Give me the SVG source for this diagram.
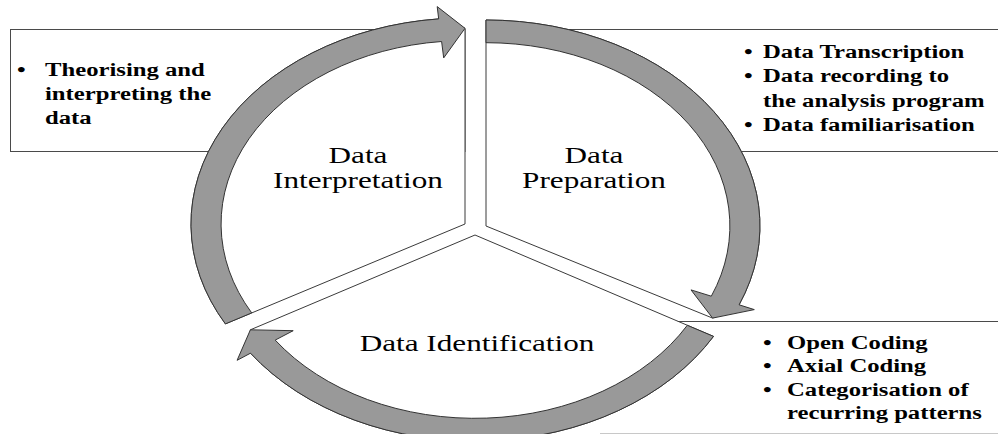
<svg xmlns="http://www.w3.org/2000/svg" width="998" height="434" viewBox="0 0 998 434">
<style>
.box{fill:#fff;stroke:#4a4a4a;stroke-width:1}
.sector{fill:#fff;stroke:#3a3a3a;stroke-width:1;stroke-linejoin:miter}
.band{fill:#999;stroke:#333;stroke-width:1;stroke-linejoin:miter}
.title{font-family:"Liberation Serif","Times New Roman",serif;font-size:24px;fill:#000;text-anchor:middle}
.item{font-family:"Liberation Serif","Times New Roman",serif;font-size:19px;font-weight:bold;fill:#000}
</style>
<rect x="0" y="0" width="998" height="434" fill="#fff"/>
<g id="box-interpretation">
<rect class="box" x="10.5" y="29.5" width="454.5" height="122"/>
<text class="item" transform="translate(17,76) scale(1.3,1)">•</text>
<text class="item" transform="translate(45,76) scale(1.3,1)"><tspan x="0" y="0">Theorising and</tspan><tspan x="0" y="24">interpreting the</tspan><tspan x="0" y="48">data</tspan></text>
</g>
<g id="box-preparation">
<rect class="box" x="486.5" y="29.5" width="520" height="122"/>
<text class="item" transform="translate(744,58) scale(1.3,1)"><tspan x="0" y="0">•</tspan><tspan x="0" y="24.5">•</tspan><tspan x="0" y="73.5">•</tspan></text>
<text class="item" transform="translate(763,58) scale(1.3,1)"><tspan x="0" y="0">Data Transcription</tspan><tspan x="0" y="24.5">Data recording to</tspan><tspan x="0" y="49">the analysis program</tspan><tspan x="0" y="73.5">Data familiarisation</tspan></text>
</g>
<g id="box-identification">
<line x1="600" y1="321.5" x2="998" y2="321.5" stroke="#4a4a4a" stroke-width="1"/>
<line x1="600" y1="433.5" x2="998" y2="433.5" stroke="#c8c8c8" stroke-width="1"/>
<text class="item" transform="translate(763,349) scale(1.3,1)"><tspan x="0" y="0">•</tspan><tspan x="0" y="23.5">•</tspan><tspan x="0" y="47">•</tspan></text>
<text class="item" transform="translate(787,349) scale(1.3,1)"><tspan x="0" y="0">Open Coding</tspan><tspan x="0" y="23.5">Axial Coding</tspan><tspan x="0" y="47">Categorisation of</tspan><tspan x="0" y="70">recurring patterns</tspan></text>
</g>
<g id="node-interpretation">
<path class="sector" d="M 465,224 L 225.4,323.9 A 274 206 0 0 1 438.7,18.9 L 465,28.3 Z"/>
<text class="title" transform="translate(358,163) scale(1.3,1)"><tspan x="0" y="0">Data</tspan><tspan x="0" y="25">Interpretation</tspan></text>
</g>
<g id="node-preparation">
<path class="sector" d="M 486,226 L 486,20 A 274 206 0 0 1 739.1,304.8 L 712.6,318.1 Z"/>
<text class="title" transform="translate(594,163) scale(1.3,1)"><tspan x="0" y="0">Data</tspan><tspan x="0" y="25">Preparation</tspan></text>
</g>
<g id="node-identification">
<path class="sector" d="M 475,235 L 713.5,336.4 A 274 206 0 0 1 250.5,353.2 L 250.4,329.8 Z"/>
<text class="title" transform="translate(477,351) scale(1.3,1)">Data Identification</text>
</g>
<g id="connectors">
<path class="band" d="M 225.4,323.9 A 274 206 0 0 1 438.7,18.9 L 437.2,6.6 L 465,28.3 L 443.7,57.9 L 441.6,41.5 A 243.9 183.3 0 0 0 251.7,312.9 Z"/>
<path class="band" d="M 486,20 A 274 206 0 0 1 739.1,304.8 L 754.3,309.6 L 712.6,318.1 L 691.0,289.9 L 711.3,296.2 A 243.9 183.3 0 0 0 486,42.7 Z"/>
<path class="band" d="M 713.5,336.4 A 274 206 0 0 1 250.5,353.2 L 237.1,360.3 L 250.4,329.8 L 293.2,330.7 L 275.2,340.1 A 243.9 183.3 0 0 0 687.3,325.3 Z"/>
</g>
</svg>
